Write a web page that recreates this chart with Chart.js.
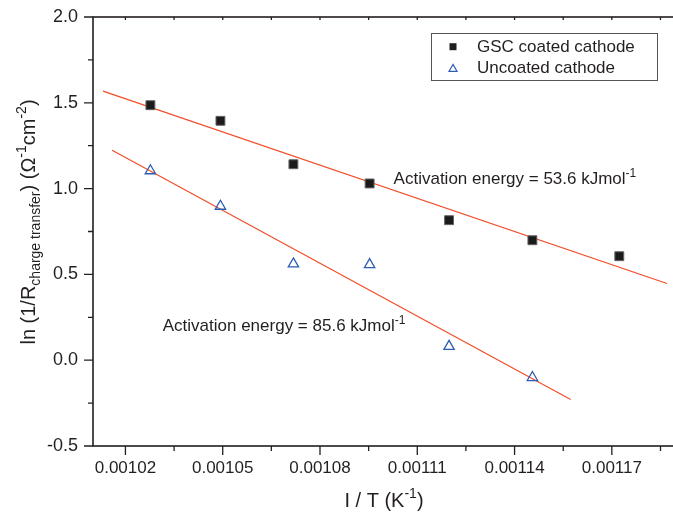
<!DOCTYPE html>
<html>
<head>
<meta charset="utf-8">
<script src="https://cdn.jsdelivr.net/npm/chart.js@4.4.0/dist/chart.umd.min.js"></script>
<style>
  html, body { margin: 0; padding: 0; background: #fff; overflow: hidden; }
  #wrap { width: 684px; height: 517px; }
</style>
</head>
<body>
<div id="wrap"><canvas id="chart" width="684" height="517"></canvas></div>
<script>
// 1/T (K^-1) at 700 ... 580 °C
const invT = [0.0010277, 0.0010493, 0.0010718, 0.0010953, 0.0011198, 0.0011455, 0.0011723];
const gscValues = [1.486, 1.395, 1.142, 1.030, 0.816, 0.699, 0.606];
const uncoatedX = [0.0010277, 0.0010493, 0.0010718, 0.0010953, 0.0011198, 0.0011455];
const uncoatedValues = [1.104, 0.897, 0.561, 0.557, 0.081, -0.101];

// linear fits (end points)
const gscFitX = [0.0010131, 0.0011870];
const gscFitY = [1.568, 0.447];
const uncoatedFitX = [0.0010159, 0.0011573];
const uncoatedFitY = [1.224, -0.229];

const xTicks = [0.00102, 0.00105, 0.00108, 0.00111, 0.00114, 0.00117];
const xMinorTicks = [0.001035, 0.001065, 0.001095, 0.001125, 0.001155, 0.001185];
const yTicks = [-0.5, 0.0, 0.5, 1.0, 1.5, 2.0];
const yMinorTicks = [-0.25, 0.25, 0.75, 1.25, 1.75];

const seriesNames = ['GSC coated cathode', 'Uncoated cathode'];
const notes = ['Activation energy = 53.6 kJmol', 'Activation energy = 85.6 kJmol'];

const FONT = '"Liberation Sans", Arial, Helvetica, sans-serif';
const INK = '#231f20';
const FIT = '#f24c28';
const BLUE = '#2d5cb5';

function pts(xs, ys) {
    return xs.map((v, i) => ({ x: v, y: ys[i] }));
}

// draws text made of runs [text, size, shift]
function drawRuns(ctx, runs, x, y, align) {
    let w = 0;
    runs.forEach(r => { ctx.font = r[1] + 'px ' + FONT; w += ctx.measureText(r[0]).width; });
    let cx = align === 'center' ? x - w / 2 : x;
    ctx.textAlign = 'left';
    ctx.textBaseline = 'alphabetic';
    runs.forEach(r => {
        ctx.font = r[1] + 'px ' + FONT;
        ctx.fillText(r[0], cx, y + r[2]);
        cx += ctx.measureText(r[0]).width;
    });
}

function triangle(ctx, x, y, r) {
    ctx.beginPath();
    for (let i = 0; i < 3; i++) {
        const a = i * 2 * Math.PI / 3;
        const px = x + Math.sin(a) * r, py = y - Math.cos(a) * r;
        if (i === 0) ctx.moveTo(px, py); else ctx.lineTo(px, py);
    }
    ctx.closePath();
}

const frame = {
    id: 'frame',
    afterDatasetsDraw(chart) {
        const { ctx, chartArea: a, scales: { x, y } } = chart;
        ctx.save();

        // box + ticks
        ctx.strokeStyle = INK;
        ctx.lineWidth = 1.6;
        ctx.strokeRect(a.left, a.top, a.right - a.left, a.bottom - a.top);
        ctx.lineWidth = 1.3;
        ctx.beginPath();
        xTicks.forEach(v => {
            const p = x.getPixelForValue(v);
            ctx.moveTo(p, a.bottom); ctx.lineTo(p, a.bottom + 9);
            ctx.moveTo(p, a.top); ctx.lineTo(p, a.top + 3);
        });
        xMinorTicks.forEach(v => {
            const p = x.getPixelForValue(v);
            ctx.moveTo(p, a.bottom); ctx.lineTo(p, a.bottom + 5);
            ctx.moveTo(p, a.top); ctx.lineTo(p, a.top + 3);
        });
        yTicks.forEach(v => {
            const p = y.getPixelForValue(v);
            ctx.moveTo(a.left - 9, p); ctx.lineTo(a.left, p);
        });
        yMinorTicks.forEach(v => {
            const p = y.getPixelForValue(v);
            ctx.moveTo(a.left - 5, p); ctx.lineTo(a.left, p);
        });
        ctx.stroke();

        ctx.fillStyle = INK;

        // axis titles
        drawRuns(ctx, [['I / T (K', 20, 0], ['-1', 14, -9], [')', 20, 0]],
            384, 507, 'center');
        ctx.save();
        ctx.translate(35, 222);
        ctx.rotate(-Math.PI / 2);
        drawRuns(ctx, [['ln (1/R', 20, 0], ['charge transfer', 14, 5], [') (\u03A9', 20, 0],
            ['-1', 14, -9], ['cm', 20, 0], ['-2', 14, -9], [')', 20, 0]], 0, 0, 'center');
        ctx.restore();

        // activation energy notes
        drawRuns(ctx, [[notes[0], 17, 0], ['-1', 12, -7]],
            x.getPixelForValue(0.0011027), y.getPixelForValue(1.026), 'left');
        drawRuns(ctx, [[notes[1], 17, 0], ['-1', 12, -7]],
            x.getPixelForValue(0.0010315), y.getPixelForValue(0.169), 'left');

        // legend
        ctx.strokeStyle = '#555';
        ctx.lineWidth = 1;
        ctx.strokeRect(431.5, 33.5, 226, 47);
        ctx.fillStyle = INK;
        ctx.fillRect(449.5, 43.2, 7, 7);
        ctx.strokeStyle = BLUE;
        ctx.lineWidth = 1.2;
        triangle(ctx, 453, 69, 4.6);
        ctx.stroke();
        ctx.fillStyle = INK;
        ctx.font = '17px ' + FONT;
        ctx.textAlign = 'left';
        ctx.textBaseline = 'middle';
        ctx.fillText(seriesNames[0], 477, 47);
        ctx.fillText(seriesNames[1], 477, 68);

        ctx.restore();
    }
};

new Chart(document.getElementById('chart'), {
    type: 'scatter',
    data: {
        datasets: [
            {
                label: seriesNames[0],
                data: pts(invT, gscValues),
                pointStyle: 'rect',
                pointRadius: 6.3,
                backgroundColor: '#1c1a1b',
                borderColor: '#666',
                borderWidth: 1,
                order: 1
            },
            {
                label: seriesNames[1],
                data: pts(uncoatedX, uncoatedValues),
                pointStyle: 'triangle',
                pointRadius: 6,
                backgroundColor: 'rgba(0,0,0,0)',
                borderColor: BLUE,
                borderWidth: 1.3,
                order: 1
            },
            {
                label: 'fit GSC',
                data: pts(gscFitX, gscFitY),
                showLine: true,
                pointRadius: 0,
                borderColor: FIT,
                borderWidth: 1.2,
                order: 2
            },
            {
                label: 'fit uncoated',
                data: pts(uncoatedFitX, uncoatedFitY),
                showLine: true,
                pointRadius: 0,
                borderColor: FIT,
                borderWidth: 1.2,
                order: 2
            }
        ]
    },
    options: {
        responsive: false,
        animation: false,
        layout: { padding: { top: 17, right: 5, left: 0, bottom: 0 } },
        plugins: { legend: { display: false }, tooltip: { enabled: false } },
        scales: {
            x: {
                type: 'linear',
                min: 0.00101,
                max: 0.00119,
                grid: { display: false, drawTicks: false },
                border: { display: false },
                afterBuildTicks: s => { s.ticks = xTicks.map(v => ({ value: v })); },
                afterFit: s => { s.height = 71; s.paddingLeft = 0; s.paddingRight = 0; },
                ticks: {
                    padding: 12,
                    autoSkip: false,
                    maxRotation: 0,
                    color: INK,
                    font: { size: 17, family: FONT },
                    callback: v => v.toFixed(5)
                }
            },
            y: {
                type: 'linear',
                min: -0.5,
                max: 2.0,
                grid: { display: false, drawTicks: false },
                border: { display: false },
                afterBuildTicks: s => { s.ticks = yTicks.map(v => ({ value: v })); },
                afterFit: s => { s.width = 93; s.paddingTop = 0; s.paddingBottom = 0; },
                ticks: {
                    padding: 15,
                    color: INK,
                    font: { size: 18, family: FONT },
                    callback: v => v.toFixed(1)
                }
            }
        }
    },
    plugins: [frame]
});
</script>
</body>
</html>
